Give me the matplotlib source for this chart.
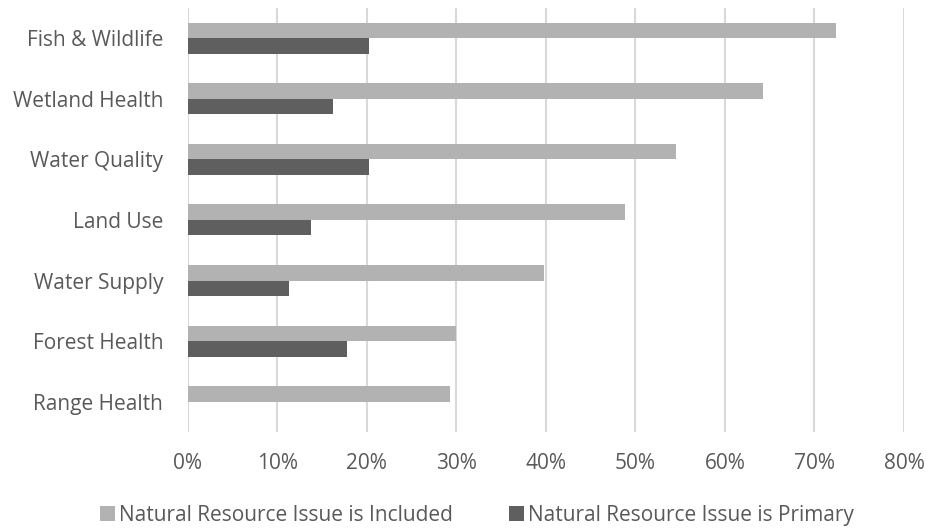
import numpy as np
from matplotlib import pyplot as plt
from matplotlib.ticker import PercentFormatter

categories = ['Fish & Wildlife', 'Wetland Health', 'Water Quality', 'Land Use',
              'Water Supply', 'Forest Health', 'Range Health']
included = [72.4, 64.3, 54.5, 48.8, 39.8, 30.0, 29.3]
primary = [20.3, 16.2, 20.3, 13.8, 11.3, 17.8, 0.0]

plt.rcParams['font.family'] = ['Open Sans', 'DejaVu Sans']
txt = '#595959'

fig = plt.figure(figsize=(9.26, 5.29), dpi=100)
ax = fig.add_axes([0.2025, 0.1834, 0.7737, 0.8015])

y = np.arange(len(categories))
h = 0.256
ax.barh(y - h / 2, included, height=h, color='#b2b2b2', linewidth=0,
        label='Natural Resource Issue is Included', zorder=3)
ax.barh(y + h / 2, primary, height=h, color='#5f5f5f', linewidth=0,
        label='Natural Resource Issue is Primary', zorder=3)

ax.set_ylim(len(categories) - 0.5, -0.5)
ax.set_yticks(y)
ax.set_yticklabels(categories)
ax.set_xlim(0, 80)
ax.set_xticks(np.arange(0, 81, 10))
ax.xaxis.set_major_formatter(PercentFormatter(decimals=0))
ax.grid(axis='x', color='#d9d9d9', linewidth=1.5, zorder=0)
for s in ax.spines.values():
    s.set_visible(False)
ax.tick_params(length=0, labelsize=15, colors=txt)
ax.tick_params(axis='x', pad=15)
ax.tick_params(axis='y', pad=17.5)

fig.legend(loc='center', bbox_to_anchor=(0.515, 0.026), ncol=2,
           frameon=False, fontsize=15, labelcolor=txt, handlelength=0.72,
           handleheight=0.72, handletextpad=0.2, columnspacing=2.7,
           borderpad=0, borderaxespad=0)

fig.savefig('out.png', dpi=100)
